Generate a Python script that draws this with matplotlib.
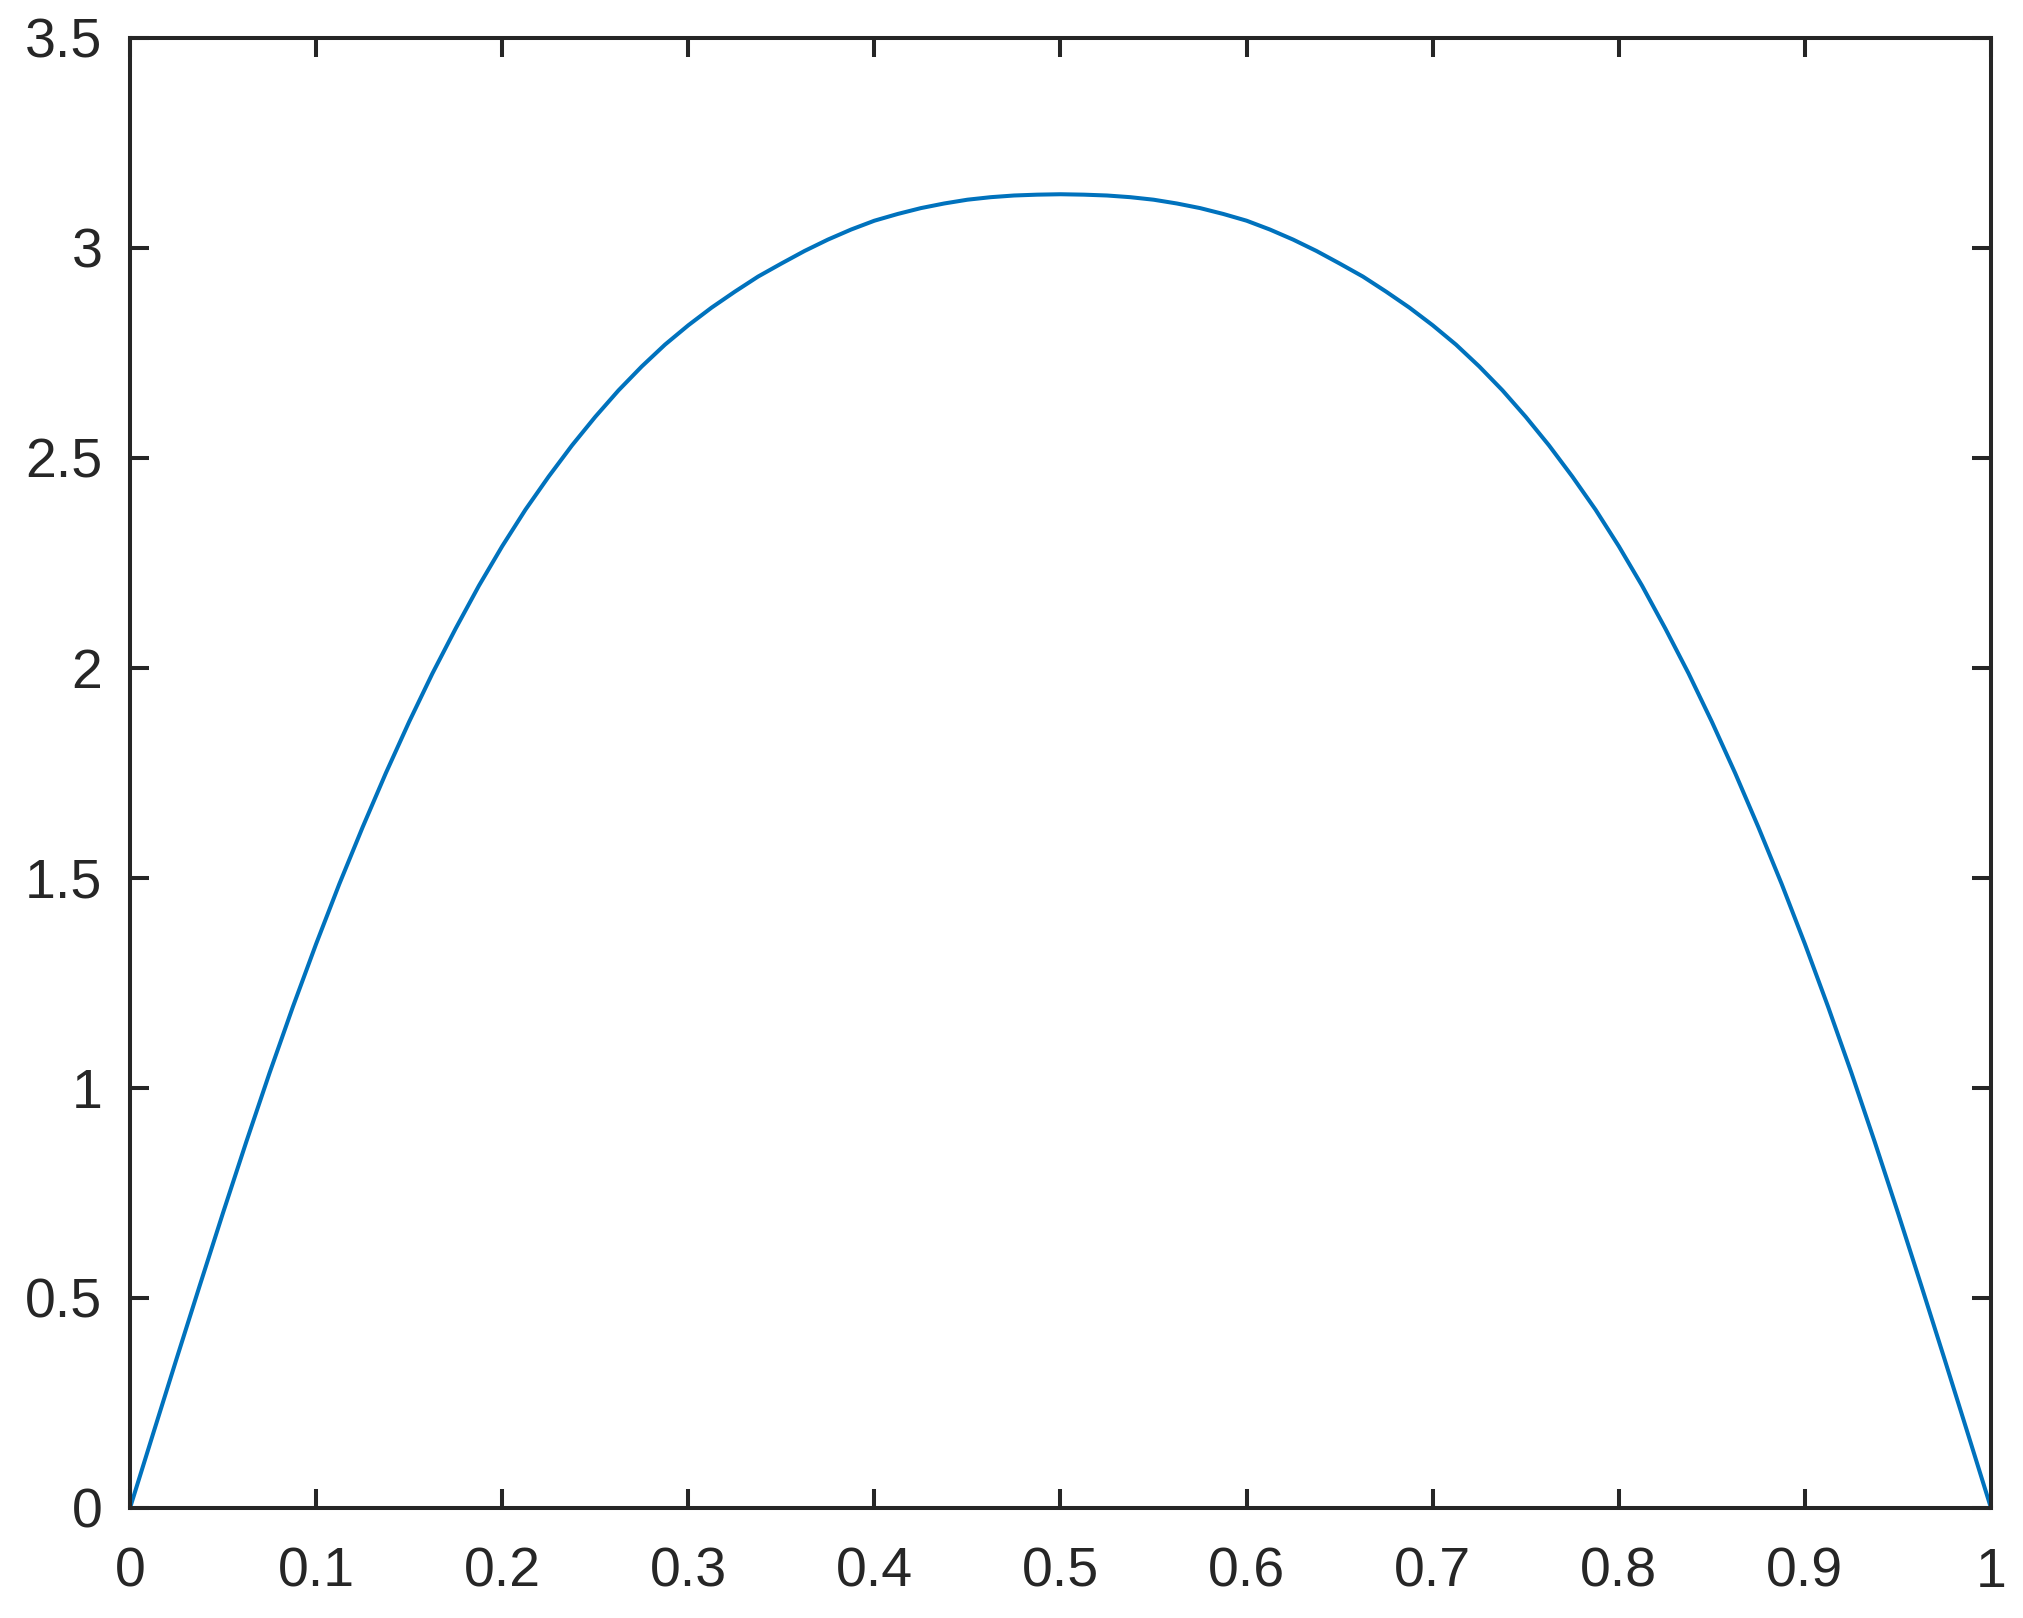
import matplotlib
matplotlib.use("Agg")
import matplotlib.pyplot as plt
import numpy as np

# Sample positions along x (0 to 1 in steps of 0.0125)
x_vals = np.linspace(0.0, 1.0, 81)
# Values at those positions
y_vals = [0.000, 0.178, 0.355, 0.530, 0.703, 0.872, 1.036, 1.193, 1.343, 1.486,
          1.621, 1.750, 1.872, 1.987, 2.094, 2.196, 2.290, 2.377, 2.456, 2.530,
          2.598, 2.661, 2.718, 2.770, 2.816, 2.858, 2.896, 2.932, 2.963, 2.993,
          3.020, 3.044, 3.065, 3.081, 3.095, 3.106, 3.115, 3.121, 3.125, 3.127,
          3.128,
          3.127, 3.125, 3.121, 3.115, 3.106, 3.095, 3.081, 3.065, 3.044, 3.020,
          2.993, 2.963, 2.932, 2.896, 2.858, 2.816, 2.770, 2.718, 2.661, 2.598,
          2.530, 2.456, 2.377, 2.290, 2.196, 2.094, 1.987, 1.872, 1.750, 1.621,
          1.486, 1.343, 1.193, 1.036, 0.872, 0.703, 0.530, 0.355, 0.178, 0.000]
x_ticks = [0, 0.1, 0.2, 0.3, 0.4, 0.5, 0.6, 0.7, 0.8, 0.9, 1]
x_tick_labels = ["0", "0.1", "0.2", "0.3", "0.4", "0.5", "0.6", "0.7", "0.8", "0.9", "1"]
y_ticks = [0, 0.5, 1, 1.5, 2, 2.5, 3, 3.5]
y_tick_labels = ["0", "0.5", "1", "1.5", "2", "2.5", "3", "3.5"]

plt.rcParams['font.family'] = ['Liberation Sans', 'DejaVu Sans']

W, H, DPI = 2024, 1618, 200
fig = plt.figure(figsize=(W / DPI, H / DPI), dpi=DPI)
ax = fig.add_axes([130 / W, 1 - 1508 / H, (1991 - 130) / W, (1508 - 38) / H])

axis_col = '#262626'
ax.plot(x_vals, y_vals, color='#0072BD', linewidth=1.45, solid_joinstyle='round')

ax.set_xlim(0, 1)
ax.set_ylim(0, 3.5)
ax.set_xticks(x_ticks)
ax.set_xticklabels(x_tick_labels)
ax.set_yticks(y_ticks)
ax.set_yticklabels(y_tick_labels)

for sp in ax.spines.values():
    sp.set_color(axis_col)
    sp.set_linewidth(1.45)

ax.tick_params(axis='both', direction='in', length=7.0, width=1.45, color=axis_col,
               labelcolor=axis_col, labelsize=20, top=True, right=True)
ax.tick_params(axis='x', pad=14)
ax.tick_params(axis='y', pad=10)

fig.savefig("out.png", dpi=DPI, facecolor='white')
